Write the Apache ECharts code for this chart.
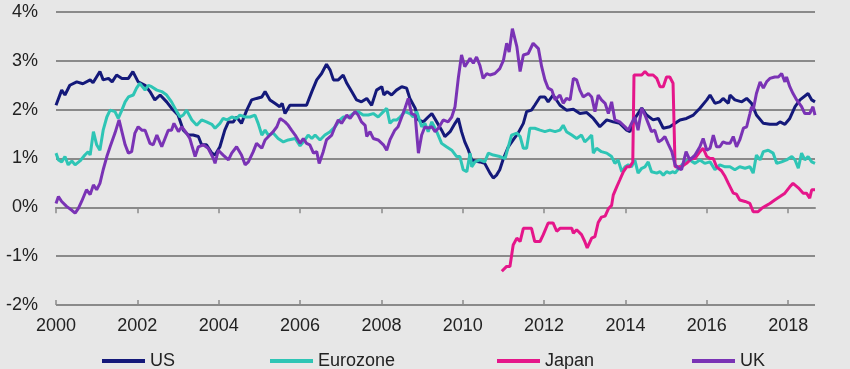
<!DOCTYPE html>
<html>
<head>
<meta charset="utf-8">
<script src="https://cdn.jsdelivr.net/npm/echarts@6/dist/echarts.min.js"></script>
<style>
html,body{margin:0;padding:0;background:#e7e7e7;}
#chart{width:850px;height:369px;}
</style>
</head>
<body>
<div id="chart"></div>
<script>
const seriesNames = ['US', 'Eurozone', 'Japan', 'UK'];
const xTicks = [2000, 2002, 2004, 2006, 2008, 2010, 2012, 2014, 2016, 2018];
const yTicks = [-2, -1, 0, 1, 2, 3, 4];

const usPoints = [
[2000.00,2.09],[2000.14,2.40],[2000.22,2.30],[2000.34,2.50],[2000.51,2.57],[2000.66,2.53],[2000.84,2.61],[2000.91,2.55],
[2001.08,2.78],[2001.16,2.61],[2001.29,2.64],[2001.38,2.57],[2001.49,2.71],[2001.62,2.64],[2001.78,2.64],[2001.89,2.78],
[2002.02,2.57],[2002.19,2.50],[2002.31,2.37],[2002.43,2.20],[2002.56,2.30],[2002.72,2.16],[2002.84,2.03],[2003.00,1.89],
[2003.13,1.58],[2003.25,1.48],[2003.37,1.48],[2003.50,1.45],[2003.58,1.28],[2003.70,1.28],[2003.83,1.11],[2003.91,1.07],
[2004.03,1.24],[2004.15,1.58],[2004.24,1.75],[2004.36,1.75],[2004.44,1.85],[2004.56,1.72],[2004.69,1.99],[2004.81,2.20],
[2004.93,2.23],[2005.06,2.26],[2005.14,2.37],[2005.26,2.20],[2005.38,2.13],[2005.50,2.06],[2005.56,2.13],[2005.63,1.92],
[2005.75,2.09],[2005.96,2.09],[2006.16,2.09],[2006.29,2.37],[2006.41,2.61],[2006.53,2.74],[2006.65,2.93],[2006.74,2.81],
[2006.82,2.61],[2006.94,2.61],[2007.06,2.71],[2007.15,2.54],[2007.27,2.37],[2007.39,2.20],[2007.51,2.16],[2007.64,2.23],
[2007.76,2.09],[2007.88,2.40],[2008.01,2.47],[2008.06,2.30],[2008.14,2.37],[2008.25,2.30],[2008.37,2.40],[2008.50,2.47],
[2008.62,2.44],[2008.70,2.23],[2008.83,2.03],[2008.91,1.79],[2009.03,1.75],[2009.15,1.85],[2009.24,1.92],[2009.36,1.75],
[2009.48,1.58],[2009.56,1.45],[2009.69,1.55],[2009.81,1.72],[2009.89,1.82],[2009.97,1.55],[2010.05,1.34],[2010.14,1.17],
[2010.22,0.97],[2010.30,0.95],[2010.42,0.93],[2010.54,0.90],[2010.67,0.70],[2010.75,0.60],[2010.83,0.66],[2010.91,0.77],
[2011.00,1.00],[2011.12,1.24],[2011.24,1.38],[2011.36,1.52],[2011.49,1.72],[2011.57,1.96],[2011.69,1.99],[2011.77,2.09],
[2011.90,2.26],[2012.02,2.26],[2012.10,2.16],[2012.22,2.30],[2012.39,2.09],[2012.55,1.99],[2012.72,2.01],[2012.88,1.92],
[2013.05,1.94],[2013.21,1.82],[2013.37,1.65],[2013.54,1.79],[2013.70,1.75],[2013.86,1.72],[2014.03,1.58],[2014.11,1.55],
[2014.23,1.82],[2014.40,2.03],[2014.52,1.89],[2014.68,1.79],[2014.81,1.82],[2014.93,1.62],[2015.09,1.65],[2015.22,1.72],
[2015.34,1.79],[2015.50,1.82],[2015.67,1.89],[2015.83,2.03],[2016.00,2.20],[2016.08,2.30],[2016.20,2.13],[2016.32,2.16],
[2016.40,2.23],[2016.53,2.13],[2016.57,2.30],[2016.69,2.20],[2016.86,2.16],[2016.98,2.23],[2017.10,2.13],[2017.22,1.89],
[2017.39,1.72],[2017.55,1.70],[2017.72,1.70],[2017.80,1.75],[2017.92,1.70],[2018.04,1.82],[2018.17,2.06],[2018.29,2.20],
[2018.49,2.33],[2018.58,2.20],[2018.66,2.16]
];

const euroPoints = [
[2000.00,1.11],[2000.06,0.97],[2000.14,0.93],[2000.22,1.04],[2000.30,0.87],[2000.39,0.95],[2000.47,0.87],[2000.59,0.95],
[2000.71,1.07],[2000.79,1.14],[2000.84,1.07],[2000.92,1.55],[2001.00,1.28],[2001.08,1.17],[2001.16,1.58],[2001.25,1.85],
[2001.33,1.99],[2001.45,1.96],[2001.53,1.82],[2001.62,1.99],[2001.70,2.16],[2001.78,2.26],[2001.90,2.30],[2001.98,2.44],
[2002.06,2.54],[2002.19,2.40],[2002.27,2.50],[2002.35,2.47],[2002.48,2.40],[2002.60,2.37],[2002.72,2.30],[2002.84,2.16],
[2002.97,1.96],[2003.05,1.85],[2003.13,1.89],[2003.21,1.99],[2003.34,1.79],[2003.46,1.68],[2003.58,1.79],[2003.70,1.75],
[2003.83,1.70],[2003.91,1.62],[2004.03,1.72],[2004.11,1.82],[2004.20,1.79],[2004.32,1.85],[2004.44,1.82],[2004.52,1.89],
[2004.65,1.85],[2004.77,1.85],[2004.89,1.89],[2004.97,1.72],[2005.06,1.48],[2005.14,1.58],[2005.22,1.48],[2005.34,1.52],
[2005.46,1.41],[2005.59,1.34],[2005.71,1.38],[2005.88,1.41],[2006.00,1.26],[2006.12,1.38],[2006.20,1.48],[2006.29,1.41],
[2006.37,1.48],[2006.49,1.38],[2006.61,1.48],[2006.74,1.55],[2006.86,1.65],[2006.98,1.79],[2007.06,1.85],[2007.19,1.85],
[2007.31,1.92],[2007.43,1.96],[2007.55,1.89],[2007.68,1.89],[2007.80,1.92],[2007.92,1.85],[2008.05,1.96],[2008.13,2.03],
[2008.21,1.72],[2008.29,1.79],[2008.38,1.79],[2008.46,1.85],[2008.58,1.96],[2008.70,1.92],[2008.78,1.85],[2008.87,1.96],
[2008.99,1.65],[2009.07,1.72],[2009.15,1.55],[2009.24,1.75],[2009.36,1.55],[2009.48,1.31],[2009.60,1.24],[2009.73,1.17],
[2009.85,1.04],[2009.93,1.04],[2010.01,0.77],[2010.10,0.73],[2010.18,1.11],[2010.22,0.83],[2010.30,0.93],[2010.42,0.97],
[2010.54,0.93],[2010.63,1.11],[2010.75,1.07],[2010.91,1.04],[2011.04,1.00],[2011.12,1.24],[2011.20,1.48],[2011.33,1.52],
[2011.41,1.45],[2011.49,1.21],[2011.57,1.21],[2011.65,1.62],[2011.77,1.62],[2011.90,1.58],[2012.02,1.55],[2012.14,1.58],
[2012.27,1.55],[2012.39,1.58],[2012.47,1.68],[2012.55,1.55],[2012.68,1.48],[2012.80,1.41],[2012.92,1.48],[2013.00,1.34],
[2013.09,1.41],[2013.17,1.48],[2013.21,1.11],[2013.29,1.21],[2013.41,1.14],[2013.54,1.11],[2013.66,1.04],[2013.74,0.90],
[2013.82,0.97],[2013.91,0.73],[2013.99,0.83],[2014.07,0.87],[2014.15,0.83],[2014.23,0.97],[2014.31,0.70],[2014.40,0.80],
[2014.48,0.83],[2014.56,0.93],[2014.64,0.73],[2014.77,0.70],[2014.85,0.73],[2014.93,0.66],[2015.01,0.73],[2015.09,0.70],
[2015.17,0.73],[2015.22,0.70],[2015.34,0.83],[2015.46,0.93],[2015.58,0.97],[2015.71,0.90],[2015.83,0.97],[2015.95,0.90],
[2016.08,0.93],[2016.20,0.77],[2016.32,0.87],[2016.45,0.83],[2016.57,0.83],[2016.69,0.77],[2016.81,0.83],[2016.94,0.80],
[2017.06,0.83],[2017.14,0.70],[2017.22,1.07],[2017.31,0.97],[2017.39,1.14],[2017.51,1.17],[2017.63,1.11],[2017.72,0.90],
[2017.84,0.93],[2017.96,0.97],[2018.09,1.04],[2018.17,0.97],[2018.25,0.80],[2018.33,1.11],[2018.41,0.97],[2018.49,1.04],
[2018.58,0.93],[2018.66,0.90]
];

const japanPoints = [
[2010.96,-1.31],[2011.08,-1.21],[2011.16,-1.21],[2011.24,-0.77],[2011.33,-0.63],[2011.41,-0.70],[2011.49,-0.43],[2011.61,-0.43],
[2011.69,-0.43],[2011.77,-0.70],[2011.90,-0.70],[2011.98,-0.56],[2012.10,-0.32],[2012.22,-0.32],[2012.31,-0.49],[2012.39,-0.43],
[2012.55,-0.43],[2012.68,-0.43],[2012.72,-0.53],[2012.80,-0.46],[2012.92,-0.56],[2013.00,-0.70],[2013.06,-0.83],[2013.17,-0.63],
[2013.25,-0.60],[2013.33,-0.31],[2013.41,-0.20],[2013.50,-0.18],[2013.58,-0.03],[2013.66,0.04],[2013.70,0.25],[2013.78,0.41],
[2013.86,0.56],[2013.95,0.73],[2014.03,0.83],[2014.11,0.83],[2014.18,0.93],[2014.21,2.71],[2014.30,2.71],[2014.40,2.71],
[2014.48,2.78],[2014.56,2.71],[2014.68,2.71],[2014.77,2.64],[2014.85,2.47],[2014.93,2.47],[2015.01,2.67],[2015.09,2.67],
[2015.17,2.54],[2015.22,0.83],[2015.38,0.83],[2015.50,0.90],[2015.63,1.00],[2015.71,1.00],[2015.83,1.14],[2015.91,1.21],
[2016.00,1.04],[2016.08,1.00],[2016.16,1.00],[2016.24,0.83],[2016.36,0.75],[2016.45,0.63],[2016.53,0.49],[2016.65,0.29],
[2016.73,0.27],[2016.81,0.15],[2016.94,0.12],[2017.06,0.08],[2017.14,-0.09],[2017.26,-0.09],[2017.35,-0.02],[2017.43,0.02],
[2017.55,0.08],[2017.67,0.15],[2017.80,0.22],[2017.92,0.29],[2018.04,0.42],[2018.12,0.49],[2018.25,0.40],[2018.37,0.29],
[2018.45,0.29],[2018.53,0.19],[2018.58,0.36],[2018.66,0.36]
];

const ukPoints = [
[2000.00,0.08],[2000.06,0.22],[2000.14,0.12],[2000.26,0.02],[2000.39,-0.06],[2000.47,-0.12],[2000.55,-0.02],[2000.63,0.12],
[2000.75,0.36],[2000.84,0.26],[2000.92,0.46],[2001.00,0.36],[2001.08,0.49],[2001.16,0.77],[2001.25,1.04],[2001.33,1.24],
[2001.45,1.52],[2001.55,1.79],[2001.62,1.55],[2001.70,1.28],[2001.78,1.11],[2001.86,1.14],[2001.94,1.52],[2002.02,1.65],
[2002.11,1.58],[2002.19,1.58],[2002.31,1.31],[2002.39,1.28],[2002.48,1.48],[2002.60,1.24],[2002.68,1.41],[2002.76,1.58],
[2002.84,1.58],[2002.90,1.72],[2003.01,1.55],[2003.09,1.65],[2003.21,1.52],[2003.29,1.41],[2003.42,1.04],[2003.50,1.24],
[2003.62,1.28],[2003.74,1.21],[2003.87,1.00],[2003.91,0.90],[2003.99,1.17],[2004.11,1.07],[2004.24,0.97],[2004.32,1.11],
[2004.44,1.24],[2004.56,1.07],[2004.65,0.87],[2004.73,0.93],[2004.85,1.14],[2004.93,1.31],[2005.06,1.21],[2005.14,1.38],
[2005.26,1.48],[2005.34,1.55],[2005.43,1.65],[2005.51,1.82],[2005.63,1.75],[2005.71,1.68],[2005.79,1.58],[2005.88,1.48],
[2006.00,1.31],[2006.08,1.41],[2006.16,1.31],[2006.24,1.28],[2006.33,1.11],[2006.41,1.14],[2006.47,0.90],[2006.57,1.14],
[2006.65,1.38],[2006.78,1.48],[2006.86,1.65],[2006.94,1.79],[2007.02,1.72],[2007.15,1.89],[2007.23,1.82],[2007.35,1.96],
[2007.43,1.89],[2007.51,1.75],[2007.60,1.68],[2007.64,1.45],[2007.72,1.55],[2007.80,1.41],[2007.92,1.38],[2008.05,1.28],
[2008.13,1.17],[2008.21,1.38],[2008.33,1.58],[2008.41,1.65],[2008.50,1.85],[2008.58,2.03],[2008.66,2.23],[2008.74,1.92],
[2008.83,1.89],[2008.91,1.11],[2008.99,1.48],[2009.07,1.65],[2009.15,1.62],[2009.24,1.65],[2009.32,1.55],[2009.40,1.62],
[2009.52,1.79],[2009.64,1.75],[2009.73,1.85],[2009.81,2.06],[2009.89,2.64],[2009.97,3.12],[2010.05,2.88],[2010.18,3.05],
[2010.26,2.95],[2010.34,3.08],[2010.42,2.91],[2010.50,2.64],[2010.59,2.74],[2010.67,2.71],[2010.79,2.74],[2010.91,2.84],
[2011.00,3.01],[2011.08,3.36],[2011.14,3.18],[2011.22,3.66],[2011.33,3.29],[2011.41,2.78],[2011.49,3.12],[2011.61,3.15],
[2011.73,3.36],[2011.86,3.25],[2011.94,2.88],[2012.02,2.61],[2012.10,2.44],[2012.19,2.40],[2012.27,2.20],[2012.31,2.16],
[2012.39,2.30],[2012.47,2.13],[2012.55,2.23],[2012.64,2.20],[2012.72,2.64],[2012.80,2.61],[2012.88,2.40],[2012.96,2.26],
[2013.09,2.33],[2013.17,2.26],[2013.25,1.96],[2013.33,2.30],[2013.41,2.20],[2013.50,2.13],[2013.58,1.92],[2013.66,2.16],
[2013.74,1.79],[2013.86,1.75],[2013.99,1.65],[2014.07,1.58],[2014.15,1.72],[2014.23,1.85],[2014.31,1.58],[2014.40,2.03],
[2014.48,1.89],[2014.56,1.72],[2014.64,1.55],[2014.72,1.58],[2014.81,1.34],[2014.89,1.38],[2014.97,1.45],[2015.05,1.30],
[2015.14,1.14],[2015.22,0.87],[2015.30,0.80],[2015.38,0.77],[2015.49,1.14],[2015.58,0.97],[2015.71,1.07],[2015.83,1.24],
[2015.91,1.41],[2016.00,1.17],[2016.08,1.21],[2016.16,1.48],[2016.24,1.24],[2016.32,1.24],[2016.40,1.34],[2016.49,1.31],
[2016.57,1.31],[2016.65,1.45],[2016.73,1.24],[2016.81,1.38],[2016.90,1.62],[2016.98,1.65],[2017.06,1.92],[2017.10,2.06],
[2017.14,1.99],[2017.22,2.33],[2017.31,2.57],[2017.39,2.44],[2017.47,2.57],[2017.55,2.64],[2017.67,2.67],[2017.76,2.67],
[2017.84,2.74],[2017.92,2.57],[2017.96,2.67],[2018.04,2.47],[2018.12,2.33],[2018.21,2.20],[2018.33,2.06],[2018.41,1.92],
[2018.53,1.92],[2018.61,2.06],[2018.66,1.89]
];

const colors = ['#14197a', '#2ec5b5', '#e5168a', '#7a33b5'];
const dataSets = [usPoints, euroPoints, japanPoints, ukPoints];
const legendLefts = [97, 265, 492, 687];
const FONT = '"Liberation Sans", Arial, sans-serif';

const chart = echarts.init(document.getElementById('chart'), null, {renderer: 'canvas'});

const baseX = {
  type: 'value', min: 2000, max: 2018.66, interval: 2,
  splitLine: {show: false}
};

const option = {
  backgroundColor: '#e7e7e7',
  animation: false,
  grid: {left: 56, right: 35, top: 12, bottom: 64, containLabel: false, outerBoundsMode: 'none'},
  legend: seriesNames.map((n, i) => ({
    data: [n], left: legendLefts[i], top: 347,
    icon: 'rect', itemWidth: 43, itemHeight: 4, itemGap: 0,
    textStyle: {fontFamily: FONT, fontSize: 18, color: '#222'}
  })),
  xAxis: [
    Object.assign({}, baseX, {
      position: 'bottom',
      axisLine: {show: false, onZero: false},
      axisTick: {show: false},
      axisLabel: {show: true, customValues: xTicks, margin: 12, fontFamily: FONT, fontSize: 18, color: '#222',
        formatter: v => String(Math.round(v))}
    }),
    Object.assign({}, baseX, {
      position: 'bottom',
      axisLine: {show: true, onZero: true, lineStyle: {color: '#8a8a8a', width: 2}},
      axisTick: {show: true, inside: false, length: 6, customValues: xTicks, lineStyle: {color: '#8a8a8a', width: 1.5}},
      axisLabel: {show: false}
    }),
    Object.assign({}, baseX, {
      position: 'bottom',
      axisLine: {show: false, onZero: true},
      axisTick: {show: true, inside: true, length: 5, customValues: xTicks, lineStyle: {color: '#8a8a8a', width: 1.5}},
      axisLabel: {show: false}
    })
  ],
  yAxis: {
    type: 'value', min: -2, max: 4, interval: 1,
    axisLine: {show: false}, axisTick: {show: false},
    splitLine: {show: true, lineStyle: {color: '#8a8a8a', width: 2}},
    axisLabel: {customValues: yTicks, margin: 18, fontFamily: FONT, fontSize: 18, color: '#222',
      formatter: v => v + '%'}
  },
  series: seriesNames.map((n, i) => ({
    name: n, type: 'line', xAxisIndex: 1, data: dataSets[i],
    showSymbol: false, symbol: 'none',
    lineStyle: {color: colors[i], width: 3},
    itemStyle: {color: colors[i]}
  }))
};
chart.setOption(option);
</script>
</body>
</html>
